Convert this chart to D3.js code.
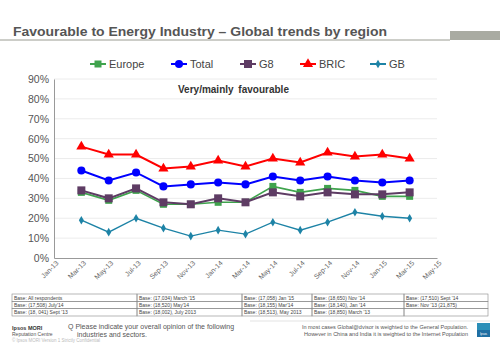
<!DOCTYPE html>
<html>
<head>
<meta charset="utf-8">
<script src="https://cdn.jsdelivr.net/npm/d3@7"></script>
<style>
  body { margin: 0; background: #fff; }
  svg { font-family: Arial, "Liberation Sans", sans-serif; }
</style>
</head>
<body>
<div id="chart"></div>
<script>
// Axis months (bimonthly)
const months = ['Jan-13', 'Mar-13', 'May-13', 'Jul-13', 'Sep-13', 'Nov-13', 'Jan-14',
  'Mar-14', 'May-14', 'Jul-14', 'Sep-14', 'Nov-14', 'Jan-15', 'Mar-15', 'May-15'];
// Survey waves
const waves = ['Mar-13', 'May-13', 'Jul-13', 'Sep-13', 'Nov-13', 'Jan-14', 'Mar-14',
  'May-14', 'Jul-14', 'Sep-14', 'Nov-14', 'Jan-15', 'Mar-15'];

const europe = [33, 29, 34, 27, 27, 28, 28, 36, 33, 35, 34, 31, 31];
const total  = [44, 39, 43, 36, 37, 38, 37, 41, 39, 41, 39, 38, 39];
const g8     = [34, 30, 35, 28, 27, 30, 28, 33, 31, 33, 32, 32, 33];
const bric   = [56, 52, 52, 45, 46, 49, 46, 50, 48, 53, 51, 52, 50];
const gb     = [19, 13, 20, 15, 11, 14, 12, 18, 14, 18, 23, 21, 20];

const yTicks = [0, 10, 20, 30, 40, 50, 60, 70, 80, 90];

const baseRows = [
  ['Base:  All respondents', "Base: (17,034) March '15", "Base: (17,058) Jan '15", "Base: (18,650) Nov '14", "Base: (17,510) Sept '14"],
  ["Base: (17,508) July'14", "Base: (18,520) May'14", "Base: (18,155) Mar'14", "Base: (18,140), Jan '14", "Base: Nov '13 (21,875)"],
  ["Base: (18, 041) Sept '13", 'Base: (18,002), July 2013', 'Base: (18,513), May 2013', "Base: (18,850) March '13", '']
];

const series = [
  { name: 'Europe', values: europe, color: '#3fa34d', shape: 'square', size: 7, width: 1.6 },
  { name: 'Total', values: total, color: '#0000ff', shape: 'circle', size: 8, width: 2 },
  { name: 'G8', values: g8, color: '#5e3c64', shape: 'square', size: 8, width: 2 },
  { name: 'BRIC', values: bric, color: '#ff0000', shape: 'triangle', size: 8, width: 2 },
  { name: 'GB', values: gb, color: '#1d83a6', shape: 'diamond', size: 6, width: 1.4 },
];

const width = 500, height = 346;
const margin = { left: 54, right: 63, top: 79, bottom: 88 };

const svg = d3.select('#chart').append('svg')
  .attr('width', width)
  .attr('height', height);

// --- Title bar ---
svg.append('text')
  .attr('x', 13).attr('y', 36)
  .attr('font-size', 13.5).attr('font-weight', 'bold')
  .attr('fill', '#555')
  .attr('textLength', 374)
  .attr('lengthAdjust', 'spacingAndGlyphs')
  .text('Favourable to Energy Industry \u2013 Global trends by region');

svg.append('line')
  .attr('x1', 0).attr('x2', 450).attr('y1', 40).attr('y2', 40)
  .attr('stroke', '#9a9c92').attr('stroke-width', 1);
svg.append('rect')
  .attr('x', 450).attr('y', 31).attr('width', 50).attr('height', 9)
  .attr('fill', '#a9aba2');

// --- Scales ---
const x = d3.scalePoint()
  .domain(months)
  .range([margin.left, width - margin.right]);

const y = d3.scaleLinear()
  .domain([0, 90])
  .range([height - margin.bottom, margin.top]);

// Gridlines
svg.append('g')
  .selectAll('line')
  .data(yTicks.slice(1))
  .join('line')
  .attr('x1', margin.left).attr('x2', width - margin.right)
  .attr('y1', d => y(d)).attr('y2', d => y(d))
  .attr('stroke', '#ececec').attr('stroke-width', 1);

// Y axis
const yAxis = svg.append('g')
  .attr('transform', `translate(${margin.left},0)`)
  .call(d3.axisLeft(y).tickValues(yTicks).tickFormat(d => d + '%').tickSize(0).tickPadding(5));
yAxis.select('.domain').attr('stroke', '#999');
yAxis.selectAll('text').attr('font-size', 10.5).attr('fill', '#555')
  .attr('font-family', 'Arial, "Liberation Sans", sans-serif');

// X axis
const xAxis = svg.append('g')
  .attr('transform', `translate(0,${height - margin.bottom})`)
  .call(d3.axisBottom(x).tickSize(0).tickPadding(3));
xAxis.select('.domain').attr('stroke', '#999');
xAxis.selectAll('text')
  .attr('font-size', 7).attr('fill', '#666')
  .attr('font-family', 'Arial, "Liberation Sans", sans-serif')
  .attr('text-anchor', 'end')
  .attr('dx', '-0.1em').attr('dy', '0.6em')
  .attr('transform', 'rotate(-45)');

// Subtitle
svg.append('text')
  .attr('x', 178).attr('y', 93)
  .attr('font-size', 10).attr('font-weight', 'bold').attr('fill', '#333')
  .attr('word-spacing', 2)
  .text('Very/mainly favourable');

// --- Markers ---
function marker(sel, s) {
  const sym = {
    square: d3.symbolSquare,
    circle: d3.symbolCircle,
    triangle: d3.symbolTriangle,
    diamond: d3.symbolDiamond,
  }[s.shape];
  sel.attr('d', d3.symbol().type(sym).size(s.size * s.size * (s.shape === 'circle' ? 0.8 : s.shape === 'triangle' ? 0.7 : s.shape === 'diamond' ? 0.6 : 1)))
    .attr('fill', s.color);
}

const line = d3.line()
  .x((d, i) => x(waves[i]))
  .y(d => y(d));

// Draw back to front so Total/BRIC sit on top like the original
const drawOrder = ['GB', 'Europe', 'G8', 'Total', 'BRIC'];
drawOrder.forEach(name => {
  const s = series.find(d => d.name === name);
  const g = svg.append('g');
  g.append('path')
    .datum(s.values)
    .attr('d', line)
    .attr('fill', 'none')
    .attr('stroke', s.color)
    .attr('stroke-width', s.width);
  g.selectAll('path.pt')
    .data(s.values)
    .join('path')
    .attr('class', 'pt')
    .attr('transform', (d, i) => `translate(${x(waves[i])},${y(d)})`)
    .call(marker, s);
});

// --- Legend ---
const legendX = [90, 171, 240, 300, 370];
const legend = svg.append('g');
series.forEach((s, i) => {
  const lg = legend.append('g').attr('transform', `translate(${legendX[i]},64)`);
  lg.append('line').attr('x1', 0).attr('x2', 16)
    .attr('stroke', s.color).attr('stroke-width', 2);
  lg.append('path').attr('transform', 'translate(8,0)').call(marker, s);
  lg.append('text').attr('x', 19).attr('y', 4)
    .attr('font-size', 11).attr('fill', '#444')
    .text(s.name);
});

// --- Base table ---
const colX = [12, 137, 242, 312, 404, 488];
const rowY = [294, 301.3, 308.6, 316];
const table = svg.append('g');
baseRows.forEach((row, r) => {
  row.forEach((cell, c) => {
    table.append('rect')
      .attr('x', colX[c]).attr('y', rowY[r])
      .attr('width', colX[c + 1] - colX[c]).attr('height', rowY[r + 1] - rowY[r])
      .attr('fill', 'none').attr('stroke', '#888').attr('stroke-width', 0.6);
    table.append('text')
      .attr('x', colX[c] + 2).attr('y', rowY[r] + 5.6)
      .attr('font-size', 5).attr('fill', '#444')
      .text(cell);
  });
});

// --- Footer ---
svg.append('line')
  .attr('x1', 250).attr('x2', 490).attr('y1', 321).attr('y2', 321)
  .attr('stroke', '#e3e3e3').attr('stroke-width', 1);

svg.append('text').attr('x', 12).attr('y', 330)
  .attr('font-size', 5.5).attr('font-weight', 'bold').attr('fill', '#333')
  .text('Ipsos MORI');
svg.append('text').attr('x', 12).attr('y', 336)
  .attr('font-size', 5).attr('fill', '#555')
  .text('Reputation Centre');
svg.append('text').attr('x', 12).attr('y', 342)
  .attr('font-size', 4.5).attr('fill', '#bbb')
  .text('\u00a9 Ipsos MORI    Version 1 Strictly Confidential');

svg.append('text').attr('x', 68).attr('y', 329)
  .attr('font-size', 7).attr('fill', '#555')
  .text('Q  Please indicate your overall opinion of the following');
svg.append('text').attr('x', 77).attr('y', 337)
  .attr('font-size', 7).attr('fill', '#555')
  .text('industries and sectors.');

svg.append('text').attr('x', 468).attr('y', 329)
  .attr('font-size', 5.5).attr('fill', '#555').attr('text-anchor', 'end')
  .text('In most cases Global@dvisor  is weighted to the General Population.');
svg.append('text').attr('x', 468).attr('y', 336)
  .attr('font-size', 5.5).attr('fill', '#555').attr('text-anchor', 'end')
  .text('However  in China and India it is weighted to the Internet Population');

svg.append('rect')
  .attr('x', 477).attr('y', 323).attr('width', 13).attr('height', 14)
  .attr('fill', '#1f6fa3');
svg.append('rect')
  .attr('x', 477).attr('y', 323).attr('width', 13).attr('height', 7)
  .attr('fill', '#2b8fb8');
svg.append('text').attr('x', 483.5).attr('y', 335)
  .attr('font-size', 3).attr('fill', '#fff').attr('text-anchor', 'middle')
  .text('Ipsos');
</script>
</body>
</html>
